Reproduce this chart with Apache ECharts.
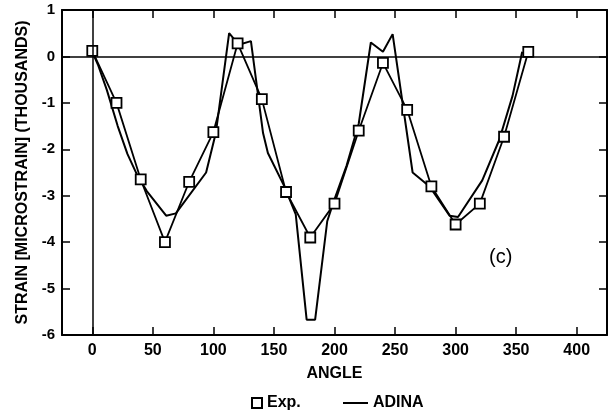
<!DOCTYPE html>
<html>
<head>
<meta charset="utf-8">
<script src="https://cdn.jsdelivr.net/npm/echarts@6/dist/echarts.min.js"></script>
<style>
  html, body { margin: 0; padding: 0; background: #fff; }
  #main { width: 613px; height: 415px; }
</style>
</head>
<body>
<div id="main"></div>
<script>
// measured points (angle, strain in thousands)
const expAngle = [0, 20, 40, 60, 80, 100, 120, 140, 160, 180, 200, 220, 240, 260, 280, 300, 320, 340, 360];
const expStrain = [0.12, -1.0, -2.65, -4.0, -2.7, -1.63, 0.28, -0.92, -2.92, -3.9, -3.17, -1.6, -0.14, -1.15, -2.8, -3.62, -3.17, -1.73, 0.1];

// ADINA model curve
const adinaAngle = [0, 5, 12, 21, 29, 37, 45, 61, 69, 94, 102, 113, 121, 131, 141, 145, 159, 168, 177, 184, 194, 199, 210, 220, 230, 240, 248, 264.5, 278.5, 295, 302, 322, 336, 347, 355];
const adinaStrain = [0.1, -0.2, -0.72, -1.5, -2.1, -2.55, -2.9, -3.43, -3.38, -2.5, -1.65, 0.5, 0.25, 0.33, -1.65, -2.08, -2.82, -3.4, -5.67, -5.67, -3.55, -3.15, -2.35, -1.45, 0.3, 0.1, 0.48, -2.5, -2.8, -3.43, -3.46, -2.67, -1.8, -0.85, 0.1];

const xTicks = [0, 50, 100, 150, 200, 250, 300, 350, 400];
const yTicks = [-6, -5, -4, -3, -2, -1, 0, 1];

const font = 'Liberation Sans, Arial, sans-serif';

let chart = echarts.init(document.getElementById('main'), null, { renderer: 'canvas' });

const expData = expAngle.map((a, i) => [a, expStrain[i]]);
const adinaData = adinaAngle.map((a, i) => [a, adinaStrain[i]]);

const frameLine = { show: true, onZero: false, lineStyle: { color: '#000', width: 2 } };
const tick = { show: true, inside: true, length: 8, lineStyle: { color: '#000', width: 1.5 } };

let option = {
  backgroundColor: '#fff',
  animation: false,
  grid: { left: 62, right: 6, top: 10, bottom: 80 },
  xAxis: [{
    type: 'value',
    min: -25,
    max: 425,
    splitNumber: 9,
    position: 'bottom',
    name: 'ANGLE',
    nameLocation: 'middle',
    nameGap: 31,
    nameTextStyle: { color: '#000', fontFamily: font, fontWeight: 'bold', fontSize: 16 },
    axisLine: frameLine,
    axisTick: tick,
    splitLine: { show: false },
    axisLabel: {
      color: '#000', fontFamily: font, fontWeight: 'bold', fontSize: 16, margin: 8,
      showMinLabel: false, showMaxLabel: false,
      formatter: v => xTicks.indexOf(v) >= 0 ? String(v) : ''
    }
  }, {
    type: 'value',
    min: -25,
    max: 425,
    splitNumber: 9,
    position: 'top',
    axisLine: frameLine,
    axisTick: tick,
    axisLabel: { show: false },
    splitLine: { show: false }
  }],
  yAxis: [{
    type: 'value',
    min: -6,
    max: 1,
    interval: 1,
    position: 'left',
    name: 'STRAIN [MICROSTRAIN] (THOUSANDS)',
    nameLocation: 'middle',
    nameGap: 27,
    nameTextStyle: { color: '#000', fontFamily: font, fontWeight: 'bold', fontSize: 16 },
    axisLine: frameLine,
    axisTick: tick,
    splitLine: { show: false },
    axisLabel: {
      color: '#000', fontFamily: font, fontWeight: 'bold', fontSize: 15, margin: 7,
      formatter: v => yTicks.indexOf(v) >= 0 ? String(v) : ''
    }
  }, {
    type: 'value',
    min: -6,
    max: 1,
    interval: 1,
    position: 'right',
    axisLine: frameLine,
    axisTick: tick,
    axisLabel: { show: false },
    splitLine: { show: false }
  }],
  legend: [{
    data: [{ name: 'Exp.', icon: 'rect', itemStyle: { color: '#fff', borderColor: '#000', borderWidth: 2 } }],
    left: 246,
    top: 390,
    itemWidth: 10,
    itemHeight: 10,
    textStyle: { color: '#000', fontFamily: font, fontWeight: 'bold', fontSize: 16 }
  }, {
    data: [{ name: 'ADINA', icon: 'rect', itemStyle: { color: '#000' } }],
    left: 338,
    top: 390,
    itemWidth: 25,
    itemHeight: 2,
    textStyle: { color: '#000', fontFamily: font, fontWeight: 'bold', fontSize: 16 }
  }],
  graphic: [{
    type: 'text',
    left: 489,
    top: 247,
    style: { text: '(c)', fill: '#000', font: '20px ' + font }
  }],
  series: [{
    name: 'ADINA',
    type: 'line',
    data: adinaData,
    symbol: 'none',
    lineStyle: { color: '#000', width: 2 },
    itemStyle: { color: '#000' },
    z: 2,
    markLine: {
      silent: true,
      symbol: 'none',
      label: { show: false },
      lineStyle: { color: '#000', type: 'solid', width: 1.5 },
      data: [{ yAxis: 0 }, { xAxis: 0 }]
    }
  }, {
    name: 'Exp.',
    type: 'line',
    data: expData,
    symbol: 'rect',
    symbolSize: 10,
    showAllSymbol: true,
    lineStyle: { color: '#000', width: 1.8 },
    itemStyle: { color: '#fff', borderColor: '#000', borderWidth: 1.8 },
    z: 3
  }]
};

chart.setOption(option);
</script>
</body>
</html>
